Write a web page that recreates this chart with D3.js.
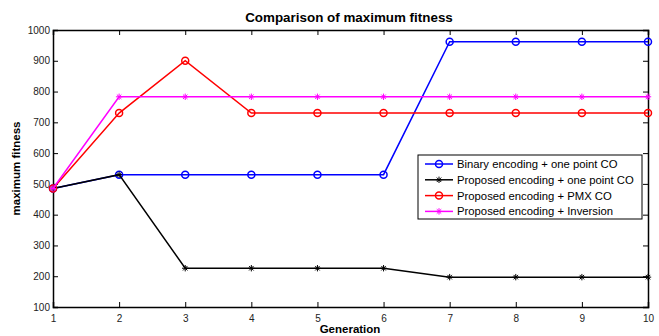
<!DOCTYPE html>
<html><head><meta charset="utf-8">
<script src="https://cdn.jsdelivr.net/npm/d3@7"></script>
<style>body{margin:0;background:#fff}svg{display:block}text{font-family:Arial,"Liberation Sans",sans-serif}</style>
</head><body><svg id="c" width="659" height="336"></svg>
<script>
const generations = [1,2,3,4,5,6,7,8,9,10];
const binaryOnePoint = [485,530,530,530,530,530,962,962,962,962];
const proposedOnePoint = [485,530,226,226,226,226,197,197,197,197];
const proposedPMX = [485,730,900,730,730,730,730,730,730,730];
const proposedInversion = [485,783,783,783,783,783,783,783,783,783];
const yTicks = [100,200,300,400,500,600,700,800,900,1000];
const seriesNames = ["Binary encoding + one point CO","Proposed encoding + one point CO","Proposed encoding + PMX CO","Proposed encoding + Inversion"];
const seriesColors = ["#0000ff","#000000","#ff0000","#ff00ff"];
const seriesMarkers = ["circle","star","circle","star"];
const seriesData = [binaryOnePoint, proposedOnePoint, proposedPMX, proposedInversion];

const svg = d3.select("#c");
const L=53,R=648,T=30,B=307;
const x = d3.scaleLinear().domain([1,10]).range([L,R]);
const y = d3.scaleLinear().domain([100,1000]).range([B,T]);

svg.append("text").attr("x",349).attr("y",22).attr("text-anchor","middle").attr("font-size",13.4).attr("font-weight","bold").text("Comparison of maximum fitness");
svg.append("text").attr("x",350).attr("y",333).attr("text-anchor","middle").attr("font-size",11.5).attr("font-weight","bold").text("Generation");
svg.append("text").attr("transform","translate(20,"+((T+B)/2)+") rotate(-90)").attr("text-anchor","middle").attr("font-size",11.5).attr("font-weight","bold").text("maximum fitness");

const tk=5;
const gx = svg.append("g").attr("transform","translate(0,"+B+")").call(d3.axisBottom(x).tickValues(generations).tickSize(-tk).tickPadding(8).tickFormat(d3.format("d")));
const gxt = svg.append("g").attr("transform","translate(0,"+T+")").call(d3.axisTop(x).tickValues(generations).tickSize(-tk).tickFormat(""));
const gy = svg.append("g").attr("transform","translate("+L+",0)").call(d3.axisLeft(y).tickValues(yTicks).tickSize(-tk).tickPadding(3).tickFormat(d3.format("d")));
const gyr = svg.append("g").attr("transform","translate("+R+",0)").call(d3.axisRight(y).tickValues(yTicks).tickSize(-tk).tickFormat(""));
[gx,gxt,gy,gyr].forEach(g=>{
  g.select(".domain").attr("stroke","#000").attr("stroke-width",1.5);
  g.selectAll(".tick line").attr("stroke","#000");
  g.selectAll("text").attr("font-size",10).attr("fill","#222").attr("font-family","Arial, 'Liberation Sans', sans-serif");
});

function drawMarker(g, type, cx, cy, color){
  if(type==="circle"){
    g.append("circle").attr("cx",cx).attr("cy",cy).attr("r",3.5).attr("fill","none").attr("stroke",color).attr("stroke-width",1.5);
  } else {
    const s=3.2;
    g.append("path").attr("d",`M${cx-s},${cy}L${cx+s},${cy}M${cx},${cy-s}L${cx},${cy+s}M${cx-s*0.7},${cy-s*0.7}L${cx+s*0.7},${cy+s*0.7}M${cx-s*0.7},${cy+s*0.7}L${cx+s*0.7},${cy-s*0.7}`).attr("stroke",color).attr("stroke-width",1);
  }
}

const line = d3.line().x((d,i)=>x(generations[i])).y(d=>y(d));
seriesData.forEach((data,k)=>{
  const g = svg.append("g");
  g.append("path").attr("d",line(data)).attr("fill","none").attr("stroke",seriesColors[k]).attr("stroke-width",1.5);
  data.forEach((v,i)=>drawMarker(g,seriesMarkers[k],x(generations[i]),y(v),seriesColors[k]));
});

const lg = svg.append("g");
lg.append("rect").attr("x",418).attr("y",155).attr("width",224).attr("height",64).attr("fill","#fff").attr("stroke","#000").attr("stroke-width",1);
seriesNames.forEach((n,k)=>{
  const yy = 164 + k*15.8;
  lg.append("line").attr("x1",425).attr("x2",453).attr("y1",yy).attr("y2",yy).attr("stroke",seriesColors[k]).attr("stroke-width",1.5);
  drawMarker(lg,seriesMarkers[k],439,yy,seriesColors[k]);
  lg.append("text").attr("x",457).attr("y",yy+4).attr("font-size",11.3).attr("fill","#000").text(n);
});
</script></body></html>
